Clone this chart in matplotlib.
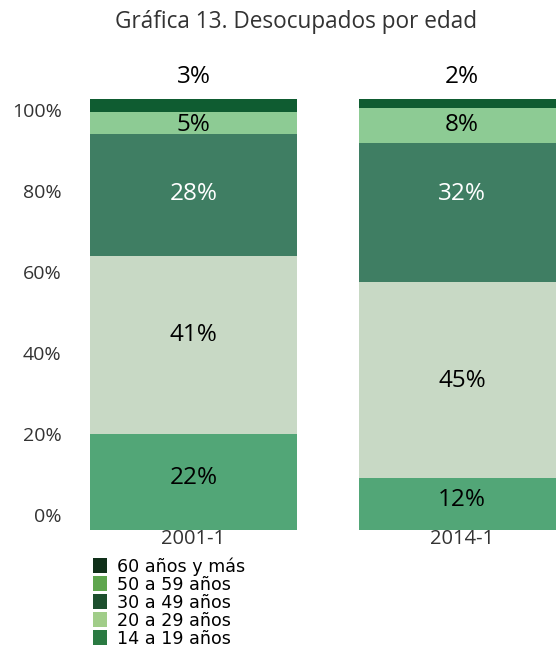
import matplotlib
matplotlib.use("Agg")
import matplotlib.pyplot as plt
from matplotlib.patches import Patch
import numpy as np

plt.rcParams['font.family'] = ['Open Sans', 'DejaVu Sans']

categories = ["2001-1", "2014-1"]
series_names = ["14 a 19 años", "20 a 29 años", "30 a 49 años", "50 a 59 años", "60 años y más"]
values = {
    "14 a 19 años": [22, 12],
    "20 a 29 años": [41, 45],
    "30 a 49 años": [28, 32],
    "50 a 59 años": [5, 8],
    "60 años y más": [3, 2],
}
bar_colors = {
    "14 a 19 años": "#52a677",
    "20 a 29 años": "#c8d9c5",
    "30 a 49 años": "#3f7e63",
    "50 a 59 años": "#8dcb94",
    "60 años y más": "#0f5c31",
}
legend_colors = {
    "14 a 19 años": "#2b7a42",
    "20 a 29 años": "#a1cd89",
    "30 a 49 años": "#1d4f2e",
    "50 a 59 años": "#5fa64e",
    "60 años y más": "#10301a",
}
label_colors = {
    "14 a 19 años": "black",
    "20 a 29 años": "black",
    "30 a 49 años": "white",
    "50 a 59 años": "black",
    "60 años y más": "black",
}
# vertical nudges of the value labels (in data units) to match the original placement
label_offsets = {
    "14 a 19 años": [1.0, 0.8],
    "20 a 29 años": [2.3, -0.3],
    "30 a 49 años": [0.2, 4.1],
    "50 a 59 años": [-0.4, 0.0],
    "60 años y más": [5.0, 5.0],
}
ytick_labels = ["0%", "20%", "40%", "60%", "80%", "100%"]

W, H = 556, 648
fig = plt.figure(figsize=(W / 100, H / 100), dpi=100)
ax = fig.add_axes([88 / W, (H - 530) / H, (556 - 88) / W, (530 - 60) / H])

x = np.arange(len(categories))
width = 0.771
bottom = np.zeros(len(categories))
for name in series_names:
    v = np.array(values[name], dtype=float)
    ax.bar(x, v, width, bottom=bottom, color=bar_colors[name], linewidth=0)
    for i in range(len(categories)):
        if name == "60 años y más":
            yy = bottom[i] + v[i] + label_offsets[name][i]
        else:
            yy = bottom[i] + v[i] / 2 + label_offsets[name][i]
        ax.text(x[i], yy, f"{int(v[i])}%", ha="center", va="center",
                fontsize=17.5, fontweight="medium", color=label_colors[name])
    bottom += v

ax.set_xlim(-0.393, 1.350)
ax.set_ylim(0, 108)
tick_pos = [3.45 + k * 18.62 for k in range(6)]
ax.set_yticks(tick_pos)
ax.set_yticklabels(ytick_labels, fontsize=14, color="#333333")
ax.set_xticks(x)
ax.set_xticklabels(categories, fontsize=14.5, color="#333333")
ax.tick_params(length=0)
ax.tick_params(axis="y", pad=19)
ax.tick_params(axis="x", pad=-1)
for s in ax.spines.values():
    s.set_visible(False)

fig.text(296 / W, 1 - 22 / H, "Gráfica 13. Desocupados por edad", ha="center", va="center",
         fontsize=16.3, color="#333333")

handles = [Patch(facecolor=legend_colors[n], label=n) for n in reversed(series_names)]
fig.legend(handles=handles, loc="upper left", bbox_to_anchor=(93 / W, 1 - 557 / H),
           frameon=False, prop={"family": "DejaVu Sans", "size": 12.6},
           handlelength=0.8, handleheight=1.0,
           labelspacing=0.0, handletextpad=0.6, borderpad=0, borderaxespad=0)

fig.savefig("out.png", dpi=100)
